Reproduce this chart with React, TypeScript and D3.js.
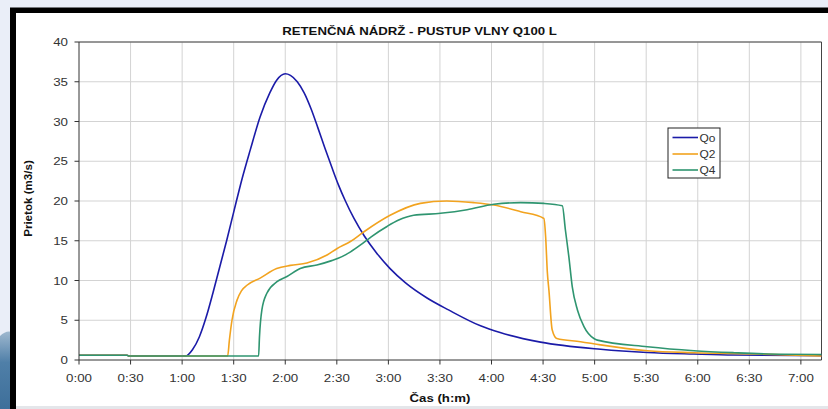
import React from "react";
import * as d3 from "d3";

const W = 828;
const H = 409;

const title = "RETENČNÁ NÁDRŽ - PUSTUP VLNY Q100 L";
const yAxisTitle = "Prietok (m3/s)";
const xAxisTitle = "Čas (h:m)";

const xTicks = [0, 30, 60, 90, 120, 150, 180, 210, 240, 270, 300, 330, 360, 390, 420];
const xTickLabels = ["0:00", "0:30", "1:00", "1:30", "2:00", "2:30", "3:00", "3:30", "4:00", "4:30", "5:00", "5:30", "6:00", "6:30", "7:00"];
const yTicks = [0, 5, 10, 15, 20, 25, 30, 35, 40];

const seriesNames = ["Qo", "Q2", "Q4"];
const seriesColors = ["#1b1ba8", "#f2a31f", "#2f9570"];

// [time in minutes, flow m3/s]
const qoData: [number, number][] = [
  [0, 0.6], [28, 0.6], [29, 0.5], [62, 0.5], [66, 1.3], [70, 2.9], [74, 5.4], [78, 8.5],
  [82, 11.8], [86, 15.1], [90, 18.6], [95, 22.9], [99.6, 26.4], [105.4, 30.6], [111, 33.6],
  [115, 35.2], [120, 36.0], [123, 35.8], [127, 35.0], [131, 33.6], [135, 31.6], [139, 29.2],
  [143, 26.7], [147, 24.3], [151, 22.0], [155, 20.0], [160, 17.8], [166, 15.6], [173, 13.5],
  [181, 11.5], [190, 9.7], [202.5, 7.8], [215, 6.3], [233.6, 4.3], [245, 3.45], [268.5, 2.25],
  [303.5, 1.35], [330.7, 0.95], [357.7, 0.75], [381, 0.62], [432, 0.55],
];

const q2Data: [number, number][] = [
  [0, 0.6], [28, 0.6], [29, 0.5], [86.5, 0.5], [87.5, 2.5], [89, 5.0], [91.9, 7.5], [94.5, 8.7],
  [97.7, 9.4], [105.4, 10.3], [115, 11.5], [123, 11.9], [132.6, 12.2], [144.3, 13.2], [150, 14.0],
  [157.9, 14.9], [165.6, 16.1], [181, 18.2], [198.6, 19.7], [214, 20.0], [229.7, 19.8],
  [241.3, 19.5], [257, 18.65], [270.5, 17.8], [271.5, 15.5], [272.5, 11], [273.4, 8.8],
  [275.3, 3.8], [278, 2.7], [291.8, 2.3], [303.5, 1.9], [330.7, 1.17], [357.8, 0.92],
  [396.7, 0.75], [432, 0.5],
];

const q4Data: [number, number][] = [
  [0, 0.6], [28, 0.6], [29, 0.5], [104.5, 0.5], [105, 2.9], [106.4, 6.3], [109.3, 8.4],
  [115.2, 9.85], [121, 10.5], [128.7, 11.5], [138.4, 11.95], [147, 12.5], [153, 13.0],
  [158, 13.6], [164, 14.5], [170, 15.5], [179.2, 16.8], [186, 17.6], [194.7, 18.2],
  [210.3, 18.45], [225.8, 18.9], [241.3, 19.6], [257, 19.8], [270.5, 19.7], [281.2, 19.4],
  [283, 16.35], [285, 13], [287, 9.2], [290, 6.3], [293.8, 4.2], [299.6, 2.7], [301.6, 2.5],
  [330.7, 1.67], [357.8, 1.17], [381, 0.92], [410, 0.72], [432, 0.7],
];

const allSeries = [qoData, q2Data, q4Data];

const FONT = "'Liberation Sans', Arial, sans-serif";
const SX = 1.14; // horizontal stretch of the reference picture's text

function T(props: {
  x: number;
  y: number;
  anchor?: "start" | "middle" | "end";
  size: number;
  bold?: boolean;
  fill?: string;
  children: React.ReactNode;
}) {
  return (
    <text
      transform={`translate(${props.x},${props.y}) scale(${SX},1)`}
      textAnchor={props.anchor || "start"}
      fontSize={props.size}
      fontWeight={props.bold ? "bold" : "normal"}
      fill={props.fill || "#333"}
    >
      {props.children}
    </text>
  );
}

export default function App() {
  const left = 79;
  const right = 821.5;
  const top = 42;
  const bottom = 360;

  const x = d3.scaleLinear().domain([0, 432]).range([left, right]);
  const y = d3.scaleLinear().domain([0, 40]).range([bottom, top]);

  const line = d3
    .line<[number, number]>()
    .x((d) => x(d[0]))
    .y((d) => y(d[1]))
    .curve(d3.curveMonotoneX);

  const legendX = 668;
  const legendY = 128;
  const legendRowY = [137.5, 154, 170];

  return (
    <svg
      width={W}
      height={H}
      style={{ position: "fixed", left: 0, top: 0, display: "block" }}
      fontFamily={FONT}
    >
      <defs>
        <linearGradient id="water" x1="0" y1="0" x2="0" y2="1">
          <stop offset="0" stopColor="#9fb8cf" />
          <stop offset="0.4" stopColor="#4f7fa8" />
          <stop offset="1" stopColor="#3e6f9a" />
        </linearGradient>
      </defs>
      <rect x={0} y={0} width={W} height={H} fill="#eaeef8" />
      <path d="M0,336 Q6,330 12,332 L12,409 L0,409 Z" fill="url(#water)" />
      <rect x={10} y={7.5} width={W - 10} height={H - 7.5} fill="#000" />
      <rect x={16} y={13} width={W - 16} height={406 - 13} fill="#fff" />
      <rect x={16} y={406} width={W - 16} height={3} fill="#e4e6ea" />

      {/* grid */}
      {xTicks.slice(1).map((t) => (
        <line key={"gx" + t} x1={x(t)} x2={x(t)} y1={top} y2={bottom} stroke="#d3d3d3" strokeWidth={1} />
      ))}
      {yTicks.slice(1).map((v) => (
        <line key={"gy" + v} x1={left} x2={right} y1={y(v)} y2={y(v)} stroke="#d3d3d3" strokeWidth={1} />
      ))}

      {/* plot border */}
      <line x1={left} x2={right} y1={top} y2={top} stroke="#444" strokeWidth={1} />
      <line x1={right} x2={right} y1={top} y2={bottom} stroke="#444" strokeWidth={1} />

      {/* series */}
      {allSeries.map((s, i) => (
        <path key={seriesNames[i]} d={line(s) || ""} fill="none" stroke={seriesColors[i]} strokeWidth={1.6} />
      ))}

      {/* axes */}
      <line x1={left} x2={left} y1={top} y2={bottom} stroke="#333" strokeWidth={1} />
      <line x1={left} x2={right} y1={bottom} y2={bottom} stroke="#333" strokeWidth={1} />
      {yTicks.map((v) => (
        <g key={"yt" + v}>
          <line x1={left - 4.5} x2={left} y1={y(v)} y2={y(v)} stroke="#333" />
          <T x={left - 11} y={y(v) + 4.2} anchor="end" size={11.7}>
            {v}
          </T>
        </g>
      ))}
      {xTicks.map((t, i) => (
        <g key={"xt" + t}>
          <line x1={x(t)} x2={x(t)} y1={bottom} y2={bottom + 4.5} stroke="#333" />
          <T x={x(t)} y={381.8} anchor="middle" size={11.7}>
            {xTickLabels[i]}
          </T>
        </g>
      ))}

      {/* titles */}
      <T x={419.5} y={35} anchor="middle" size={11.6} bold fill="#111">
        {title}
      </T>
      <text
        transform={`translate(32,198.5) rotate(-90)`}
        textAnchor="middle"
        fontSize={11.6}
        fontWeight="bold"
        fill="#111"
      >
        {yAxisTitle}
      </text>
      <T x={440} y={402} anchor="middle" size={11.6} bold fill="#111">
        {xAxisTitle}
      </T>

      {/* legend */}
      <rect x={legendX} y={legendY} width={52} height={50} fill="#fff" stroke="#222" strokeWidth={1} />
      {seriesNames.map((n, i) => (
        <g key={"lg" + n}>
          <line x1={672.5} x2={698} y1={legendRowY[i]} y2={legendRowY[i]} stroke={seriesColors[i]} strokeWidth={1.6} />
          <T x={699.5} y={legendRowY[i] + 4} size={10.5}>
            {n}
          </T>
        </g>
      ))}
    </svg>
  );
}
